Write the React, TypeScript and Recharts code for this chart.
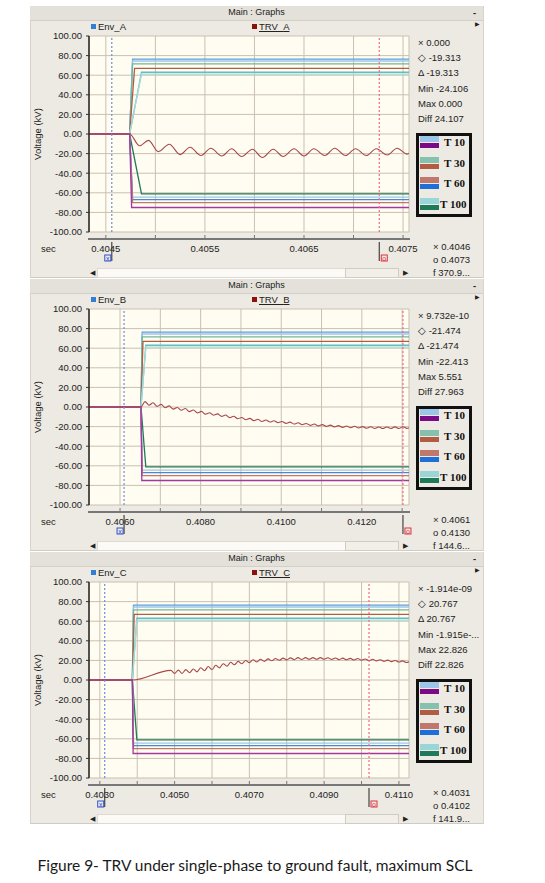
import React from 'react';
import { LineChart, Line, XAxis, YAxis, CartesianGrid, ReferenceLine } from 'recharts';

// time in seconds, voltage in kV
const yTicks = [-100, -80, -60, -40, -20, 0, 20, 40, 60, 80, 100];

const phases = ['A', 'B', 'C'];
const faultTimes = [0.40474, 0.40652, 0.40387];
const xDomains = [[0.40433, 0.40756], [0.40523, 0.41317], [0.40271, 0.41127]];
const xTicks = [
  [0.4045, 0.405, 0.4055, 0.406, 0.4065, 0.407, 0.4075],
  [0.406, 0.407, 0.408, 0.409, 0.41, 0.411, 0.412, 0.413],
  [0.403, 0.404, 0.405, 0.406, 0.407, 0.408, 0.409, 0.41, 0.411],
];
const xLabels = [
  [0.4045, 0.4055, 0.4065, 0.4075],
  [0.406, 0.408, 0.41, 0.412],
  [0.403, 0.405, 0.407, 0.409, 0.411],
];
const cursors = [[0.40456, 0.40726], [0.4061, 0.41302], [0.40313, 0.4102]];

// envelope limits (T10 / T30 / T60 / T100), level and rise time after the fault
const envLevels = [76.5, 74.5, 71.5, 67, 63, 61, -61, -64.5, -67, -70, -75];
const envRise = [0.00003, 0.00003, 0.00003, 0.00005, 0.00012, 0.00012, 0.00012, 0.00003, 0.00003, 0.00003, 0.00002];

const trvA = [
  [0.40484, -12], [0.40493, -6.5], [0.40503, -18], [0.40514, -10.5], [0.40525, -21],
  [0.40535, -13.5], [0.40546, -22], [0.40556, -14.5], [0.40567, -22.5], [0.40577, -15],
  [0.40587, -23], [0.40598, -15.5], [0.40608, -24], [0.40619, -15.5], [0.40629, -23],
  [0.4064, -15], [0.4065, -22.5], [0.4066, -15], [0.40671, -22], [0.40681, -14.5],
  [0.40692, -22], [0.40702, -15], [0.40713, -22], [0.40723, -15], [0.40734, -21.5],
  [0.40744, -14.5], [0.40754, -20.5], [0.40756, -19.5],
];

const trvB = [
  [0.40662, 5.5], [0.40672, 1.8], [0.40682, 4.3], [0.40692, 0.6], [0.40702, 2.7],
  [0.40712, -0.7], [0.40722, 1.1], [0.40732, -2.2], [0.40742, -0.5], [0.40752, -3.3],
  [0.40762, -1.6], [0.40772, -4.7], [0.40782, -3.1], [0.40792, -6.0], [0.40802, -4.5],
  [0.40812, -7.3], [0.40822, -5.8], [0.40832, -8.4], [0.40842, -7.0], [0.40852, -9.6],
  [0.40862, -8.2], [0.40872, -10.8], [0.40882, -9.4], [0.40892, -12.0], [0.40902, -10.7],
  [0.40912, -13.0], [0.40922, -11.6], [0.40932, -13.9], [0.40942, -12.5], [0.40952, -14.8],
  [0.40962, -13.3], [0.40972, -15.3], [0.40982, -14.1], [0.40992, -16.0], [0.41002, -14.8],
  [0.41012, -16.7], [0.41022, -15.4], [0.41032, -17.4], [0.41042, -16.1], [0.41052, -18.1],
  [0.41062, -16.8], [0.41072, -18.7], [0.41082, -17.4], [0.41092, -19.3], [0.41102, -18.0],
  [0.41112, -19.8], [0.41122, -18.5], [0.41132, -20.3], [0.41142, -19.0], [0.41152, -20.8],
  [0.41162, -19.4], [0.41172, -21.1], [0.41182, -19.7], [0.41192, -21.4], [0.41202, -20.0],
  [0.41212, -21.7], [0.41222, -20.2], [0.41232, -21.9], [0.41242, -20.4], [0.41252, -22.0],
  [0.41262, -20.4], [0.41272, -21.9], [0.41282, -20.3], [0.41292, -21.9], [0.41302, -20.2],
  [0.41312, -21.8], [0.41317, -21.2],
];

const trvC = [
  [0.4049, 9.8], [0.405, 6.7], [0.4051, 10.1], [0.4052, 6.7], [0.4053, 10.6],
  [0.4054, 7.4], [0.4055, 11.3], [0.4056, 8.3], [0.4057, 12.5], [0.4058, 9.5],
  [0.4059, 13.7], [0.406, 10.7], [0.4061, 15.0], [0.4062, 12.4], [0.4063, 16.6],
  [0.4064, 14.1], [0.4065, 18.1], [0.4066, 15.5], [0.4067, 19.0], [0.4068, 16.6],
  [0.4069, 19.9], [0.407, 17.7], [0.4071, 20.6], [0.4072, 18.4], [0.4073, 21.1],
  [0.4074, 19.0], [0.4075, 21.6], [0.4076, 19.6], [0.4077, 22.0], [0.4078, 20.1],
  [0.4079, 22.3], [0.408, 20.5], [0.4081, 22.6], [0.4082, 20.7], [0.4083, 22.8],
  [0.4084, 20.9], [0.4085, 22.8], [0.4086, 21.2], [0.4087, 22.8], [0.4088, 21.2],
  [0.4089, 22.8], [0.409, 21.2], [0.4091, 22.7], [0.4092, 21.0], [0.4093, 22.5],
  [0.4094, 20.8], [0.4095, 22.3], [0.4096, 20.6], [0.4097, 22.1], [0.4098, 20.4],
  [0.4099, 21.9], [0.41, 20.2], [0.4101, 21.5], [0.4102, 19.9], [0.4103, 21.1],
  [0.4104, 19.5], [0.4105, 20.7], [0.4106, 19.1], [0.4107, 20.3], [0.4108, 18.7],
  [0.4109, 19.9], [0.411, 18.3], [0.4111, 19.5], [0.4112, 17.9], [0.41127, 18.5],
];
const trvRows = [trvA, trvB, trvC];

const readouts = [
  ['\u00d7 0.000', '\u25c7 -19.313', '\u0394 -19.313', 'Min -24.106', 'Max 0.000', 'Diff 24.107'],
  ['\u00d7 9.732e-10', '\u25c7 -21.474', '\u0394 -21.474', 'Min -22.413', 'Max 5.551', 'Diff 27.963'],
  ['\u00d7 -1.914e-09', '\u25c7 20.767', '\u0394 20.767', 'Min -1.915e-...', 'Max 22.826', 'Diff 22.826'],
];
const cursorReadouts = [
  ['\u00d7 0.4046', 'o 0.4073', 'f 370.9...'],
  ['\u00d7 0.4061', 'o 0.4130', 'f 144.6...'],
  ['\u00d7 0.4031', 'o 0.4102', 'f 141.9...'],
];
const legendNames = ['T 10', 'T 30', 'T 60', 'T 100'];

const FONT = '"Liberation Sans", Arial, sans-serif';
const envColors = ['#5c9fe0', '#9cc5ea', '#6fb89a', '#b35c44', '#5cc0c8', '#a6dcd8',
  '#1f7a5a', '#9cc5ea', '#4a86d8', '#c0786c', '#a03aa0'];
const legendSwatches = [
  ['#9cc5ea', '#7b0a86'], ['#86c1ad', '#b35c44'], ['#c0786c', '#1e6fd8'], ['#9ad6d8', '#1f7a5a'],
];
const panelTops = [6, 279, 552];

const txt = (extra: React.CSSProperties): React.CSSProperties => ({
  position: 'absolute', fontFamily: FONT, fontSize: 9.5, color: '#222', whiteSpace: 'nowrap', lineHeight: '11px', ...extra,
});

const XTick = (props: any) => {
  const { x, y, payload, labels } = props;
  const show = labels.includes(payload.value);
  return (
    <g>
      <line x1={x} x2={x} y1={y + 3} y2={y + 7} stroke="#777" />
      {show && (
        <text x={x} y={y + 20} textAnchor="middle" fontSize={9.5} fill="#222" fontFamily={FONT}>
          {payload.value.toFixed(4)}
        </text>
      )}
    </g>
  );
};

const CursorMark = (props: any) => {
  const { viewBox, kind } = props;
  if (!viewBox) return null;
  const x = viewBox.x;
  const base = viewBox.y + viewBox.height;
  const blue = kind === 'x';
  return (
    <g>
      <line x1={x} x2={x} y1={base + 10} y2={base + 29} stroke="#444" strokeWidth={1.2} />
      <rect x={blue ? x - 7 : x + 2} y={base + 23} width={6} height={6} fill="none" stroke={blue ? '#3050d0' : '#e03040'} />
      <text x={blue ? x - 4 : x + 5} y={base + 28.5} textAnchor="middle" fontSize={7} fill={blue ? '#3050d0' : '#e03040'} fontFamily={FONT}>
        {blue ? 'x' : 'o'}
      </text>
    </g>
  );
};

const Panel = ({ i }: { i: number }) => {
  const P = panelTops[i];
  const dom = xDomains[i];
  const fault = faultTimes[i];
  const envData = envLevels.map((lv, k) => [
    { t: dom[0], v: 0 }, { t: fault, v: 0 }, { t: fault + envRise[k], v: lv }, { t: dom[1], v: lv },
  ]);
  const trv = [{ t: dom[0], v: 0 }, { t: fault, v: 0 }, ...trvRows[i].map(([t, v]) => ({ t, v }))];
  const ph = phases[i];
  return (
    <>
      <div style={{ position: 'absolute', left: 30, top: P, width: 452, height: 271, background: '#edeae3', borderLeft: '1px solid #d8d4cc', borderRight: '1px solid #d8d4cc', borderBottom: '1px solid #cfcbc2' }} />
      <div style={{ position: 'absolute', left: 30, top: P, width: 453, height: 14, background: '#e4e1da', borderBottom: '1px solid #d4d0c8' }} />
      <div style={txt({ left: 30, width: 453, top: P + 1, textAlign: 'center', fontSize: 9 })}>Main : Graphs</div>
      <div style={txt({ left: 473, top: P + 1, fontWeight: 'bold' })}>-</div>
      <div style={txt({ left: 475, top: P + 13, fontSize: 6 })}>{'\u25b6'}</div>

      <div style={{ position: 'absolute', left: 91, top: P + 18, width: 5, height: 5, background: '#2f7fd8' }} />
      <div style={txt({ left: 98, top: P + 15 })}>Env_{ph}</div>
      <div style={{ position: 'absolute', left: 252, top: P + 18, width: 5, height: 5, background: '#8b1010' }} />
      <div style={txt({ left: 259, top: P + 15, textDecoration: 'underline' })}>TRV_{ph}</div>

      <div style={txt({ left: 37, top: P + 128, transform: 'translate(-50%, -50%) rotate(-90deg)' })}>Voltage (kV)</div>
      <div style={txt({ left: 41, top: P + 237 })}>sec</div>

      <div style={{ position: 'absolute', left: 0, top: P }}>
        <LineChart width={545} height={272} margin={{ top: 30, right: 136, bottom: 6, left: 49 }}>
          <CartesianGrid stroke="#c9c1b1" fill="#fffcf1" fillOpacity={1} />
          <XAxis
            type="number"
            dataKey="t"
            domain={dom}
            ticks={xTicks[i]}
            interval={0}
            allowDataOverflow
            height={40}
            axisLine={false}
            tickLine={false}
            tickSize={0}
            tickMargin={0}
            tick={<XTick labels={xLabels[i]} />}
          />
          <YAxis
            type="number"
            domain={[-100, 100]}
            ticks={yTicks}
            interval={0}
            width={40}
            tickSize={3}
            tickMargin={4}
            tickFormatter={(v: number) => v.toFixed(2)}
            axisLine={{ stroke: '#222', strokeWidth: 1.5 }}
            tickLine={{ stroke: '#333' }}
            tick={{ fill: '#222', fontSize: 9.5, fontFamily: FONT }}
          />
          {envData.map((d, k) => (
            <Line key={k} data={d} dataKey="v" type="linear" stroke={envColors[k]} strokeWidth={1.3} dot={false} isAnimationActive={false} />
          ))}
          <Line data={trv} dataKey="v" type="monotone" stroke="#a84848" strokeWidth={1.1} dot={false} isAnimationActive={false} />
          <ReferenceLine x={cursors[i][0]} stroke="#6f8ce6" strokeDasharray="2 2" strokeWidth={1.2} label={<CursorMark kind="x" />} />
          <ReferenceLine x={cursors[i][1]} stroke="#ec6c8a" strokeDasharray="2 2" strokeWidth={1.2} label={<CursorMark kind="o" />} />
        </LineChart>
      </div>

      <div style={{ position: 'absolute', left: 88, top: P + 232, width: 322, height: 2, background: '#777' }} />

      {readouts[i].map((s, k) => (
        <div key={k} style={txt({ left: 418, top: P + 31 + k * 15.2 })}>{s}</div>
      ))}

      <div style={{ position: 'absolute', left: 416, top: P + 127, width: 50, height: 78, border: '3px solid #111', background: '#edeae3' }}>
        {legendSwatches.map((sw, k) => (
          <React.Fragment key={k}>
            <div style={{ position: 'absolute', left: 1, top: k * 20.5, width: 19, height: 6, background: sw[0] }} />
            <div style={{ position: 'absolute', left: 1, top: 7 + k * 20.5, width: 19, height: 5, background: sw[1] }} />
            <div style={{ position: 'absolute', left: k === 3 ? 21 : 25, top: k * 20.5, fontFamily: '"Liberation Serif", "DejaVu Serif", serif', fontWeight: 'bold', fontSize: 11, lineHeight: '12px', color: '#111', whiteSpace: 'nowrap' }}>
              {legendNames[k]}
            </div>
          </React.Fragment>
        ))}
      </div>

      {cursorReadouts[i].map((s, k) => (
        <div key={k} style={txt({ left: 433, top: P + 235 + k * 13 })}>{s}</div>
      ))}

      <div style={txt({ left: 90, top: P + 261, fontSize: 7 })}>{'\u25c0'}</div>
      <div style={{ position: 'absolute', left: 97, top: P + 262, width: 300, height: 8, background: '#fbfaf7', border: '1px solid #dedad2' }} />
      <div style={{ position: 'absolute', left: 345, top: P + 262, width: 52, height: 8, background: '#f2efe9', border: '1px solid #d0ccc4' }} />
      <div style={txt({ left: 403, top: P + 261, fontSize: 7 })}>{'\u25b6'}</div>
    </>
  );
};

export default function App() {
  return (
    <div style={{ position: 'absolute', left: 0, top: 0, width: 545, height: 883, background: '#fff', overflow: 'hidden' }}>
      {[0, 1, 2].map((i) => (
        <Panel key={i} i={i} />
      ))}
      <div style={{ position: 'absolute', left: 0, width: 510, top: 856, textAlign: 'center', fontFamily: 'Lato, "Open Sans", sans-serif', fontSize: 15.5, color: '#1a1a1a', whiteSpace: 'nowrap' }}>
        Figure 9- TRV under single-phase to ground fault, maximum SCL
      </div>
    </div>
  );
}
